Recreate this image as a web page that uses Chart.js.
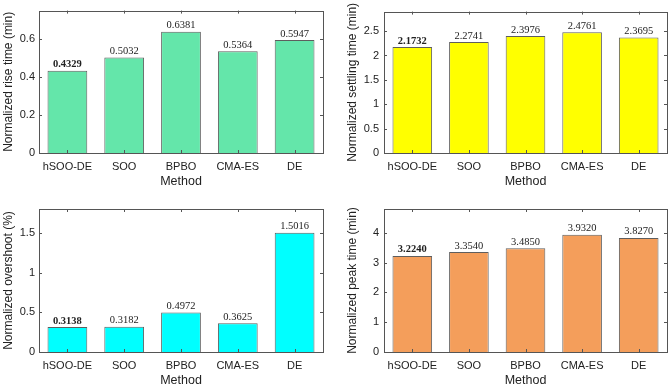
<!DOCTYPE html>
<html>
<head>
<meta charset="utf-8">
<script src="https://cdn.jsdelivr.net/npm/chart.js@4.4.1/dist/chart.umd.min.js"></script>
<style>
  html, body { margin: 0; padding: 0; background: #fff; overflow: hidden; width: 669px; height: 385px; }
  .panel { position: absolute; }
</style>
</head>
<body>
<div class="panel" style="left:0;top:0;width:334px;height:190px"><canvas id="c1"></canvas></div>
<div class="panel" style="left:334px;top:0;width:335px;height:190px"><canvas id="c2"></canvas></div>
<div class="panel" style="left:0;top:190px;width:334px;height:200px"><canvas id="c3"></canvas></div>
<div class="panel" style="left:334px;top:190px;width:335px;height:200px"><canvas id="c4"></canvas></div>
<script>
// categories shared by all four panels
const methods = ['hSOO-DE', 'SOO', 'BPBO', 'CMA-ES', 'DE'];

// series values
const riseTime = [0.4329, 0.5032, 0.6381, 0.5364, 0.5947];
const settlingTime = [2.1732, 2.2741, 2.3976, 2.4761, 2.3695];
const overshoot = [0.3138, 0.3182, 0.4972, 0.3625, 1.5016];
const peakTime = [3.2240, 3.3540, 3.4850, 3.9320, 3.8270];

// y tick labels
const riseTicks = [0, 0.2, 0.4, 0.6];
const settlingTicks = [0, 0.5, 1, 1.5, 2, 2.5];
const overshootTicks = [0, 0.5, 1, 1.5];
const peakTicks = [0, 1, 2, 3, 4];

const SANS = "'Liberation Sans', Arial, sans-serif";
const SERIF = "'Liberation Serif', 'Times New Roman', serif";
const BOX_COLOR = '#555';

// MATLAB-like box with inward tick marks + value labels above bars
const boxPlugin = {
    id: 'matlabBox',
    afterDatasetsDraw(chart) {
        const { ctx, chartArea: a, scales: { x, y } } = chart;
        ctx.save();
        ctx.strokeStyle = BOX_COLOR;
        ctx.lineWidth = 1;
        ctx.beginPath();
        y.ticks.forEach(t => {
            const py = Math.round(y.getPixelForValue(t.value)) + 0.5;
            ctx.moveTo(a.left, py); ctx.lineTo(a.left + 3, py);
            ctx.moveTo(a.right, py); ctx.lineTo(a.right - 3, py);
        });
        x.ticks.forEach((t, i) => {
            const px = Math.round(x.getPixelForValue(i)) + 0.5;
            ctx.moveTo(px, a.bottom); ctx.lineTo(px, a.bottom - 3);
            ctx.moveTo(px, a.top); ctx.lineTo(px, a.top + 3);
        });
        ctx.stroke();
        ctx.strokeRect(Math.round(a.left) + 0.5, Math.round(a.top) + 0.5,
            Math.round(a.right - a.left), Math.round(a.bottom - a.top));

        // value labels
        const meta = chart.getDatasetMeta(0);
        const vals = chart.data.datasets[0].data;
        ctx.fillStyle = '#222';
        ctx.textAlign = 'center';
        ctx.textBaseline = 'alphabetic';
        meta.data.forEach((bar, i) => {
            ctx.font = (i === 0 ? 'bold ' : '') + '10.5px ' + SERIF;
            ctx.fillText(vals[i].toFixed(4), bar.x, bar.y - 3.5);
        });
        ctx.restore();
    }
};

function makePanel(id, values, ticks, yMax, color, yTitle, area) {
    const canvas = document.getElementById(id);
    const w = canvas.parentElement.clientWidth;
    const h = canvas.parentElement.clientHeight;
    return new Chart(canvas, {
        type: 'bar',
        data: {
            labels: methods,
            datasets: [{
                data: values,
                backgroundColor: color,
                borderColor: '#5e5e5e',
                borderWidth: 1,
                barPercentage: 0.7,
                categoryPercentage: 1.0
            }]
        },
        options: {
            responsive: true,
            maintainAspectRatio: false,
            animation: false,
            events: [],
            layout: { padding: { left: 0, top: area.top, right: w - area.right, bottom: 0 } },
            plugins: { legend: { display: false }, tooltip: { enabled: false } },
            scales: {
                x: {
                    grid: { display: false, drawTicks: false },
                    border: { display: false },
                    ticks: { color: '#222', font: { family: SANS, size: 11 }, padding: 7, maxRotation: 0, autoSkip: false },
                    title: { display: true, text: 'Method', color: '#222',
                             font: { family: SANS, size: 12.5, lineHeight: 1.2 },
                             padding: { top: 0, bottom: area.titleB } },
                    afterFit: s => { s.height = h - area.bottom; }
                },
                y: {
                    min: 0, max: yMax,
                    grid: { display: false, drawTicks: false },
                    border: { display: false },
                    afterBuildTicks: s => { s.ticks = ticks.map(v => ({ value: v })); },
                    ticks: { color: '#222', font: { family: SANS, size: 11 }, padding: area.tickPad,
                             callback: v => String(v) },
                    title: { display: true, text: yTitle, color: '#222',
                             font: { family: SANS, size: 12, lineHeight: 1.2 },
                             padding: { top: area.titleL, bottom: 0 } },
                    afterFit: s => { s.width = area.left; }
                }
            }
        },
        plugins: [boxPlugin]
    });
}

makePanel('c1', riseTime, riseTicks, 0.75, '#64E6AA', 'Normalized rise time (min)',
    { left: 39, top: 10, right: 323, bottom: 153, titleB: 0.5, titleL: 1, tickPad: 4 });
makePanel('c2', settlingTime, settlingTicks, 2.9, '#FFFF00', 'Normalized settling time (min)',
    { left: 50, top: 10, right: 333, bottom: 153, titleB: 0.5, titleL: 11, tickPad: 5 });
makePanel('c3', overshoot, overshootTicks, 1.8, '#00FFFF', 'Normalized overshoot (%)',
    { left: 39, top: 19, right: 323, bottom: 162, titleB: 1.8, titleL: 1, tickPad: 4 });
makePanel('c4', peakTime, peakTicks, 4.8, '#F49E5B', 'Normalized peak time (min)',
    { left: 50, top: 19, right: 333, bottom: 162, titleB: 1.8, titleL: 11, tickPad: 5 });
</script>
</body>
</html>
